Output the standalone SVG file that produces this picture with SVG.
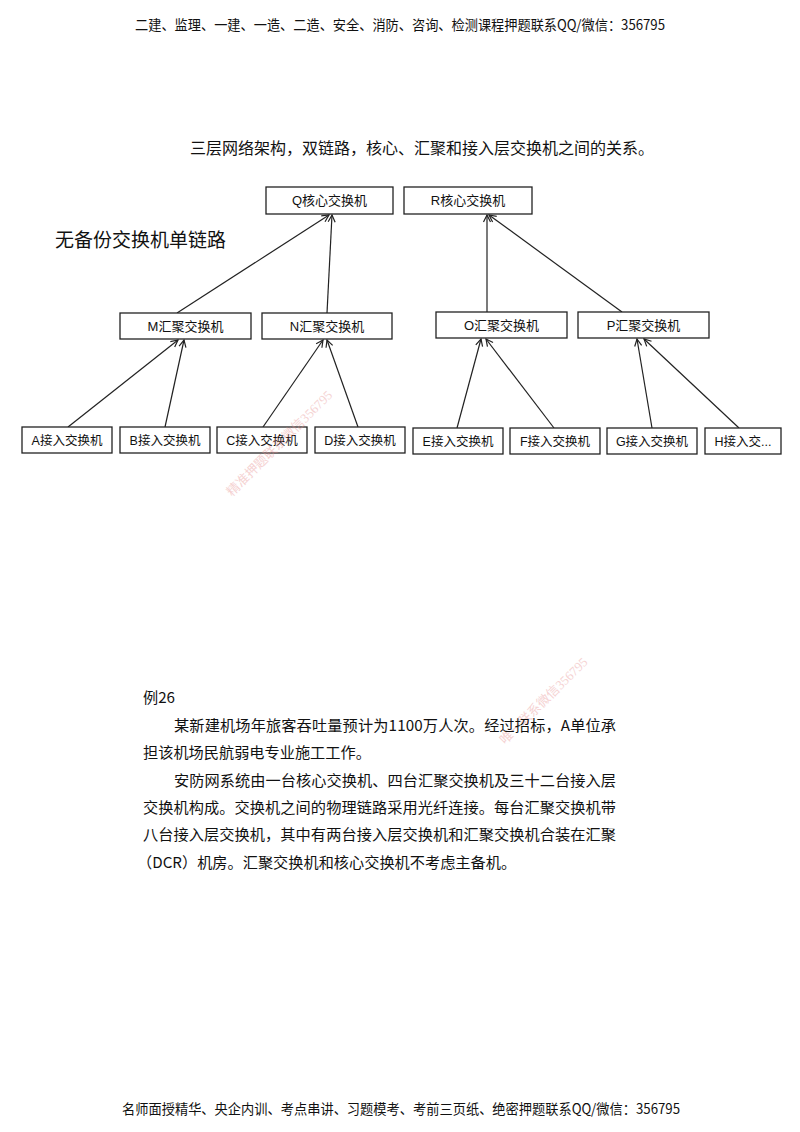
<svg xmlns="http://www.w3.org/2000/svg" width="800" height="1132" viewBox="0 0 800 1132">
<style>
.box{fill:#fff;stroke:#222;stroke-width:1.3}
.lbl{font-family:"Liberation Sans","Noto Sans CJK SC",sans-serif;font-size:13px;fill:#111;text-anchor:middle}
.lbl2{font-family:"Liberation Sans","Noto Sans CJK SC",sans-serif;font-size:12.5px;fill:#111;text-anchor:middle}
.edge{stroke:#222;stroke-width:1.2;fill:none;marker-end:url(#arr)}
.hdr{font-family:"Noto Sans CJK SC",sans-serif;font-size:14px;fill:#111}
.body{font-family:"Noto Sans CJK SC",sans-serif;font-size:15.2px;fill:#111}
.wm{font-family:"Liberation Serif","Noto Sans CJK SC",serif;font-size:13px;fill:#e89090;opacity:0.4}
</style>
<defs>
<marker id="arr" viewBox="-9 -5 10 10" markerWidth="10" markerHeight="10" refX="0" refY="0" orient="auto" markerUnits="userSpaceOnUse">
<path d="M-7,-3.5 L0,0 L-7,3.5" fill="none" stroke="#222" stroke-width="1.2"/>
</marker>
</defs>
<rect width="800" height="1132" fill="#fff"/>
<text class="hdr" x="135" y="30" textLength="530" lengthAdjust="spacingAndGlyphs">二建、监理、一建、一造、二造、安全、消防、咨询、检测课程押题联系QQ/微信：356795</text>
<text x="190" y="154" style="font-family:'Noto Sans CJK SC',sans-serif;font-size:16px;fill:#111">三层网络架构，双链路，核心、汇聚和接入层交换机之间的关系。</text>
<text x="55" y="247" style="font-family:'Noto Sans CJK SC',sans-serif;font-size:19px;fill:#111">无备份交换机单链路</text>
<g id="connectors">
<line class="edge" x1="177" y1="313" x2="329" y2="215"/>
<line class="edge" x1="327" y1="313" x2="332" y2="215"/>
<line class="edge" x1="487" y1="312" x2="487" y2="215"/>
<line class="edge" x1="622" y1="312" x2="489" y2="215"/>
<line class="edge" x1="68" y1="427" x2="178" y2="340"/>
<line class="edge" x1="165" y1="427" x2="184" y2="340"/>
<line class="edge" x1="263" y1="427" x2="323" y2="340"/>
<line class="edge" x1="358" y1="427" x2="327" y2="340"/>
<line class="edge" x1="457" y1="428" x2="481" y2="339"/>
<line class="edge" x1="554" y1="428" x2="486" y2="339"/>
<line class="edge" x1="652" y1="428" x2="637" y2="339"/>
<line class="edge" x1="739" y1="428" x2="644" y2="339"/>
</g>
<g id="Q"><rect class="box" x="266" y="187" width="127" height="27"/><text class="lbl" x="329.5" y="205">Q核心交换机</text></g>
<g id="R"><rect class="box" x="404" y="187" width="128" height="27"/><text class="lbl" x="468" y="205">R核心交换机</text></g>
<g id="M"><rect class="box" x="120" y="313" width="131" height="26"/><text class="lbl" x="185.5" y="330.5">M汇聚交换机</text></g>
<g id="N"><rect class="box" x="262" y="313" width="130" height="26"/><text class="lbl" x="327" y="330.5">N汇聚交换机</text></g>
<g id="O"><rect class="box" x="436" y="312" width="131" height="26"/><text class="lbl" x="501.5" y="329.5">O汇聚交换机</text></g>
<g id="P"><rect class="box" x="578" y="312" width="131" height="26"/><text class="lbl" x="643.5" y="329.5">P汇聚交换机</text></g>
<g id="A"><rect class="box" x="22" y="427" width="90" height="26"/><text class="lbl2" x="67" y="444.5">A接入交换机</text></g>
<g id="B"><rect class="box" x="120" y="427" width="90" height="26"/><text class="lbl2" x="165" y="444.5">B接入交换机</text></g>
<g id="C"><rect class="box" x="217" y="427" width="90" height="26"/><text class="lbl2" x="262" y="444.5">C接入交换机</text></g>
<g id="D"><rect class="box" x="315" y="427" width="90" height="26"/><text class="lbl2" x="360" y="444.5">D接入交换机</text></g>
<g id="E"><rect class="box" x="413" y="428" width="90" height="26"/><text class="lbl2" x="458" y="445.5">E接入交换机</text></g>
<g id="F"><rect class="box" x="510" y="428" width="90" height="26"/><text class="lbl2" x="555" y="445.5">F接入交换机</text></g>
<g id="G"><rect class="box" x="607" y="428" width="90" height="26"/><text class="lbl2" x="652" y="445.5">G接入交换机</text></g>
<g id="H"><rect class="box" x="705" y="428" width="76" height="26"/><text class="lbl2" x="743" y="445.5">H接入交...</text></g>
<text class="wm" x="232" y="497" transform="rotate(-45 232 497)">精准押题联系微信356795</text>
<text class="wm" x="505" y="745" transform="rotate(-44.5 505 745)">唯一联系微信356795</text>
<text class="body" x="143" y="703.3">例26</text>
<text class="body" x="174" y="730.7" textLength="442" lengthAdjust="spacing">某新建机场年旅客吞吐量预计为1100万人次。经过招标，A单位承</text>
<text class="body" x="143" y="758.1">担该机场民航弱电专业施工工作。</text>
<text class="body" x="174" y="785.5" textLength="442" lengthAdjust="spacing">安防网系统由一台核心交换机、四台汇聚交换机及三十二台接入层</text>
<text class="body" x="143" y="812.9" textLength="473" lengthAdjust="spacing">交换机构成。交换机之间的物理链路采用光纤连接。每台汇聚交换机带</text>
<text class="body" x="143" y="840.3" textLength="473" lengthAdjust="spacing">八台接入层交换机，其中有两台接入层交换机和汇聚交换机合装在汇聚</text>
<text class="body" x="137" y="867.7">（DCR）机房。汇聚交换机和核心交换机不考虑主备机。</text>
<text class="hdr" x="122" y="1114" textLength="558" lengthAdjust="spacingAndGlyphs">名师面授精华、央企内训、考点串讲、习题模考、考前三页纸、绝密押题联系QQ/微信：356795</text>
</svg>
